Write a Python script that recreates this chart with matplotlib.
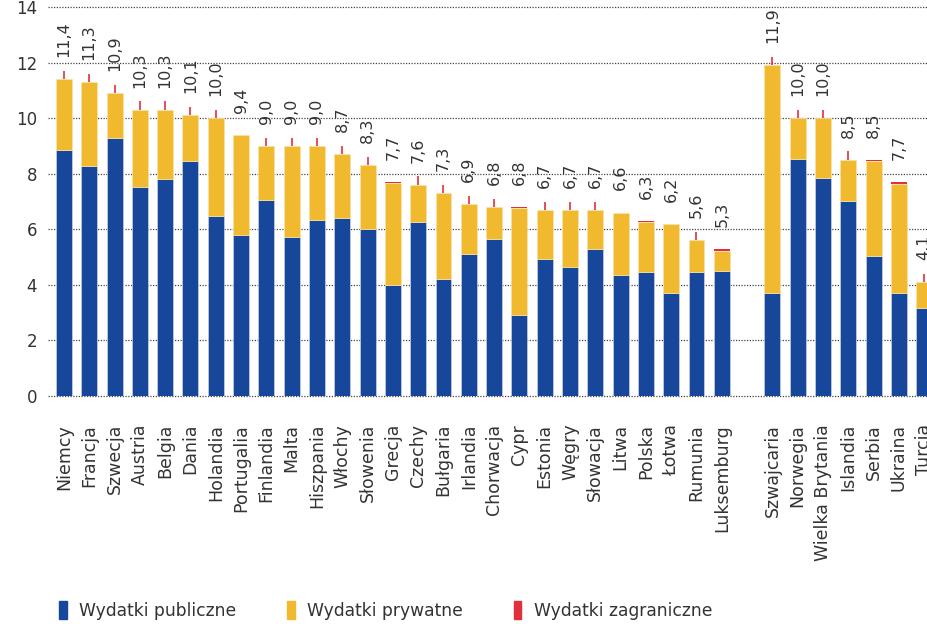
import matplotlib
matplotlib.use("Agg")
import matplotlib.pyplot as plt
from matplotlib.patches import Patch
import numpy as np

countries = ["Niemcy", "Francja", "Szwecja", "Austria", "Belgia", "Dania", "Holandia",
             "Portugalia", "Finlandia", "Malta", "Hiszpania", "Włochy", "Słowenia", "Grecja",
             "Czechy", "Bułgaria", "Irlandia", "Chorwacja", "Cypr", "Estonia", "Węgry",
             "Słowacja", "Litwa", "Polska", "Łotwa", "Rumunia", "Luksemburg",
             "Szwajcaria", "Norwegia", "Wielka Brytania", "Islandia", "Serbia", "Ukraina", "Turcja"]
n_eu = 27

public = [8.86, 8.29, 9.28, 7.53, 7.80, 8.46, 6.49, 5.78, 7.07, 5.71, 6.33, 6.42, 6.01, 4.00,
          6.27, 4.21, 5.10, 5.65, 2.91, 4.93, 4.63, 5.30, 4.35, 4.48, 3.70, 4.47, 4.51,
          3.70, 8.52, 7.86, 7.01, 5.05, 3.69, 3.17]
private = [2.54, 3.01, 1.62, 2.77, 2.50, 1.64, 3.51, 3.62, 1.93, 3.29, 2.67, 2.28, 2.29, 3.68,
           1.33, 3.09, 1.80, 1.15, 3.86, 1.77, 2.07, 1.40, 2.23, 1.80, 2.48, 1.13, 0.71,
           8.20, 1.48, 2.14, 1.49, 3.39, 3.93, 0.93]
foreign = [0, 0, 0, 0, 0, 0, 0, 0, 0, 0, 0, 0, 0, 0.02,
           0, 0, 0, 0, 0.03, 0, 0, 0, 0.02, 0.02, 0.02, 0, 0.08,
           0, 0, 0, 0, 0.06, 0.08, 0]
foreign_tick = [0.3, 0.3, 0.3, 0.3, 0.3, 0.3, 0.3, 0, 0.3, 0.3, 0.3, 0.3, 0.3, 0,
                0.3, 0.3, 0.3, 0.3, 0, 0.3, 0.3, 0.3, 0, 0, 0, 0.3, 0,
                0.3, 0.3, 0.3, 0.3, 0, 0, 0.3]
totals = [11.4, 11.3, 10.9, 10.3, 10.3, 10.1, 10.0, 9.4, 9.0, 9.0, 9.0, 8.7, 8.3, 7.7,
          7.6, 7.3, 6.9, 6.8, 6.8, 6.7, 6.7, 6.7, 6.6, 6.3, 6.2, 5.6, 5.3,
          11.9, 10.0, 10.0, 8.5, 8.5, 7.7, 4.1]
yticks = [0, 2, 4, 6, 8, 10, 12, 14]

BLUE = "#17479a"
YELLOW = "#f0b92e"
RED = "#e0303c"
TXT = "#333333"

fig = plt.figure(figsize=(9.27, 6.24), dpi=100)
ax = fig.add_axes([48 / 927, 1 - 396 / 624, 1 - 48 / 927, (396 - 7) / 624])

x = np.array([i if i < n_eu else i + 1 for i in range(len(countries))], dtype=float)
pub = np.array(public)
prv = np.array(private)
frn = np.array(foreign)
w = 0.63

for y in yticks:
    ax.axhline(y, color="#444444", lw=0.9, ls=(0, (1, 1.2)), zorder=0, clip_on=False)

ax.bar(x, pub, w, color=BLUE, edgecolor="#c8d0e0", linewidth=0.5, zorder=2)
ax.bar(x, prv, w, bottom=pub, color=YELLOW, edgecolor="#f8e3b0", linewidth=0.5, zorder=2)
ax.bar(x, frn, w, bottom=pub + prv, color=RED, linewidth=0, zorder=3)
tops = pub + prv + frn
for xi, t, tk in zip(x, tops, foreign_tick):
    if tk > 0:
        ax.vlines(xi, t, t + tk, color=RED, lw=1.2, zorder=3)

for xi, t, lab in zip(x, totals, totals):
    ax.annotate(f"{lab:.1f}".replace(".", ","), (xi, t), xytext=(0, 16),
                textcoords="offset points", rotation=90, ha="center", va="bottom",
                fontsize=11.5, color=TXT, annotation_clip=False)

ax.set_ylim(0, 14)
ax.set_xlim(-0.63, 34.11)
ax.set_yticks(yticks)
ax.set_yticklabels([str(v) for v in yticks], fontsize=12, color=TXT)
ax.set_xticks(x)
ax.set_xticklabels(countries, rotation=90, fontsize=12.5, color=TXT)
ax.tick_params(axis="both", length=0)
ax.tick_params(axis="y", pad=8)
ax.tick_params(axis="x", pad=20)
for s in ax.spines.values():
    s.set_visible(False)

handles = [Patch(color=BLUE), Patch(color=YELLOW), Patch(color=RED)]
fig.legend(handles, ["Wydatki publiczne", "Wydatki prywatne", "Wydatki zagraniczne"],
           loc="lower left", bbox_to_anchor=(0.047, -0.018), ncol=3, frameon=False,
           handlelength=0.45, handleheight=1.3, handletextpad=0.75, columnspacing=2.95,
           fontsize=12.3, labelcolor=TXT)

fig.savefig("out.png", dpi=100)
